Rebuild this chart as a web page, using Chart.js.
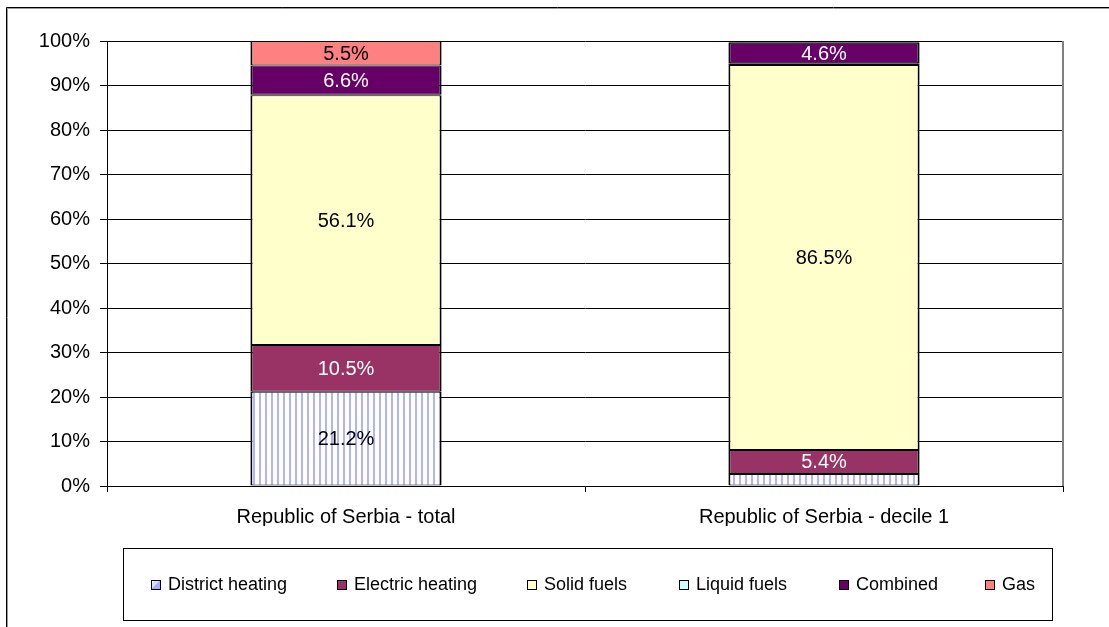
<!DOCTYPE html>
<html>
<head>
<meta charset="utf-8">
<style>
  html, body { margin: 0; padding: 0; background: #fff; }
  #wrap { width: 1109px; height: 627px; position: relative; }
</style>
<script src="https://cdn.jsdelivr.net/npm/chart.js@4.4.1/dist/chart.umd.min.js"></script>
</head>
<body>
<div id="wrap"><canvas id="c" width="1109" height="627"></canvas></div>
<script>
// ---- Data ----
const categories = ['Republic of Serbia - total', 'Republic of Serbia - decile 1'];
const seriesNames = ['District heating', 'Electric heating', 'Solid fuels', 'Liquid fuels', 'Combined', 'Gas'];
const districtHeating = [21.2, 2.7];
const electricHeating = [10.5, 5.4];
const solidFuels = [56.1, 86.5];
const liquidFuels = [0.1, 0.4];
const combined = [6.6, 4.6];
const gas = [5.5, 0.4];
const yTicks = [0, 10, 20, 30, 40, 50, 60, 70, 80, 90, 100];

// ---- Styles ----
const FONT = "'Liberation Sans', Arial, sans-serif";
function stripePattern() {
  const p = document.createElement('canvas');
  p.width = 6; p.height = 6;
  const g = p.getContext('2d');
  g.fillStyle = '#ffffff'; g.fillRect(0, 0, 6, 6);
  g.fillStyle = '#b0b4ff'; g.fillRect(1, 0, 2, 6);
  return g.createPattern(p, 'repeat');
}
const ctx = document.getElementById('c').getContext('2d');
const fills = [stripePattern(), '#993366', '#FFFFCC', '#CCFFFF', '#660066', '#FF8080'];
const labelColors = ['#000000', '#ffffff', '#000000', '#000000', '#ffffff', '#000000'];
const values = [districtHeating, electricHeating, solidFuels, liquidFuels, combined, gas];
const legendX = [151, 337, 527, 679, 839, 985];

const datasets = seriesNames.map((name, i) => ({
  label: name,
  data: values[i],
  backgroundColor: fills[i],
  borderColor: '#000000',
  borderWidth: { top: 1, bottom: 1, left: 2, right: 2 },
  borderSkipped: false,
  categoryPercentage: 1.0,
  barPercentage: 0.4
}));

// data labels
const labelPlugin = {
  id: 'segLabels',
  afterDatasetsDraw(chart) {
    const c = chart.ctx;
    c.save();
    c.font = '20px ' + FONT;
    c.textAlign = 'center';
    c.textBaseline = 'middle';
    chart.data.datasets.forEach((ds, di) => {
      const meta = chart.getDatasetMeta(di);
      meta.data.forEach((bar, j) => {
        const v = ds.data[j];
        if (v < 3) return;
        const p = bar.getProps(['x', 'y', 'base'], true);
        c.fillStyle = labelColors[di];
        c.fillText(v.toFixed(1) + '%', p.x, (p.y + p.base) / 2 + 1);
      });
    });
    c.restore();
  }
};

// frame, right border, legend box
const framePlugin = {
  id: 'frame',
  afterDraw(chart) {
    const c = chart.ctx;
    const a = chart.chartArea;
    c.save();
    // outer frame
    c.strokeStyle = '#000';
    c.lineWidth = 1;
    c.beginPath();
    c.moveTo(6.5, 627); c.lineTo(6.5, 7.5); c.lineTo(1109, 7.5);
    c.stroke();
    c.strokeStyle = '#999';
    c.beginPath();
    c.moveTo(7.5, 627); c.lineTo(7.5, 8.5); c.lineTo(1109, 8.5);
    c.stroke();
    // right plot border
    c.strokeStyle = '#808080';
    c.lineWidth = 2;
    c.beginPath();
    c.moveTo(a.right, a.top); c.lineTo(a.right, a.bottom);
    c.stroke();
    // legend box
    c.strokeStyle = '#000';
    c.lineWidth = 1;
    c.strokeRect(123.5, 548.5, 929, 72);
    // legend items
    c.font = '18px ' + FONT;
    c.textBaseline = 'middle';
    c.textAlign = 'left';
    const cy = 585;
    chart.data.datasets.forEach((ds, i) => {
      const sx = legendX[i], sy = cy - 5;
      if (i === 0) {
        c.fillStyle = '#ffffff'; c.fillRect(sx, sy, 9, 9);
        c.fillStyle = '#a8acff';
        c.beginPath(); c.moveTo(sx, sy + 9); c.lineTo(sx + 9, sy); c.lineTo(sx + 9, sy + 9); c.closePath(); c.fill();
        c.fillStyle = '#d8daff';
        c.beginPath(); c.moveTo(sx, sy + 9); c.lineTo(sx, sy + 4); c.lineTo(sx + 4, sy); c.lineTo(sx + 9, sy); c.closePath(); c.fill();
      } else {
        c.fillStyle = ds.backgroundColor; c.fillRect(sx, sy, 9, 9);
      }
      c.strokeStyle = '#000'; c.lineWidth = 1;
      c.strokeRect(sx + 0.5, sy + 0.5, 9, 9);
      c.fillStyle = '#000';
      c.fillText(ds.label, sx + 17, cy);
    });
    c.restore();
  }
};

new Chart(ctx, {
  type: 'bar',
  data: { labels: categories, datasets },
  options: {
    responsive: false,
    animation: false,
    events: [],
    layout: { padding: { left: 0, top: 41, right: 46, bottom: 101 } },
    plugins: {
      legend: { display: false },
      tooltip: { enabled: false },
      title: { display: false }
    },
    scales: {
      x: {
        stacked: true,
        afterFit(s) { s.height = 40; },
        grid: {
          offset: true,
          drawOnChartArea: false,
          drawTicks: true,
          tickLength: 6,
          color: '#000'
        },
        border: { display: true, color: '#000', width: 1 },
        ticks: { color: '#000', font: { family: FONT, size: 20 }, padding: 13, maxRotation: 0 }
      },
      y: {
        stacked: true,
        min: 0,
        max: 100,
        afterFit(s) { s.width = 107; },
        afterBuildTicks(s) { s.ticks = yTicks.map(v => ({ value: v })); },
        grid: { color: '#000', lineWidth: 1, drawTicks: true, tickLength: 7, tickColor: '#000' },
        border: { display: true, color: '#000', width: 1 },
        ticks: {
          color: '#000',
          font: { family: FONT, size: 20 },
          padding: 10,
          callback: v => v + '%'
        }
      }
    }
  },
  plugins: [labelPlugin, framePlugin]
});
</script>
</body>
</html>
